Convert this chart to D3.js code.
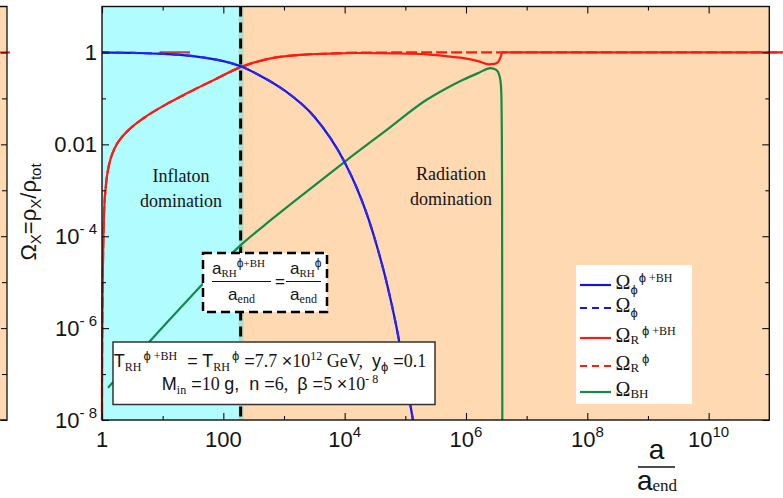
<!DOCTYPE html>
<html>
<head>
<meta charset="utf-8">
<script src="https://cdn.jsdelivr.net/npm/d3@7"></script>
<style>
  html, body { margin: 0; padding: 0; background: #fff; }
  svg { display: block; }
  text { white-space: pre; }
</style>
</head>
<body>
<svg id="chart" width="783" height="498"></svg>
<script>
// ---- data: log10(a/a_end) and log10(Omega_X) ----
const inflatonLogA     = [0, 0.5, 1.0, 1.5, 2.0, 2.285, 2.6, 3.0, 3.5, 4.0, 4.2, 4.4, 4.55, 4.7, 4.85, 5.0, 5.15, 5.25];
const inflatonLogOmega = [0, -0.01, -0.03, -0.08, -0.19, -0.30, -0.50, -0.82, -1.40, -2.39, -2.95, -3.65, -4.3, -5.05, -5.95, -7.05, -8.2, -9.1];

// inflaton-only history coincides with the inflaton + BH one
const inflatonOnlyLogA     = inflatonLogA.slice();
const inflatonOnlyLogOmega = inflatonLogOmega.slice();

const radiationLogA     = [0.00003, 0.0003, 0.0015, 0.005, 0.0099, 0.0165, 0.0329, 0.0659, 0.1153, 0.1811, 0.247, 0.329, 0.461, 0.708, 1.07, 1.40, 1.828, 2.285, 2.78, 3.26, 3.75, 4.2, 4.8, 5.35, 5.67, 5.94, 6.2, 6.38, 6.47, 6.53, 6.565, 6.585, 6.6, 8, 11.22];
const radiationLogOmega = [-8.5, -7.4, -6.7, -6.04, -5.17, -4.52, -3.54, -2.88, -2.45, -2.17, -1.99, -1.84, -1.66, -1.41, -1.12, -0.89, -0.61, -0.32, -0.13, -0.055, -0.025, -0.012, -0.02, -0.04, -0.08, -0.12, -0.19, -0.26, -0.25, -0.21, -0.12, -0.04, 0, 0, 0];

const radiationOnlyLogA     = [0.00003, 0.0003, 0.0015, 0.005, 0.0099, 0.0165, 0.0329, 0.0659, 0.1153, 0.1811, 0.247, 0.329, 0.461, 0.708, 1.07, 1.40, 1.828, 2.285, 2.78, 3.26, 3.75, 4.2, 5.0, 11.22];
const radiationOnlyLogOmega = [-8.5, -7.4, -6.7, -6.04, -5.17, -4.52, -3.54, -2.88, -2.45, -2.17, -1.99, -1.84, -1.66, -1.41, -1.12, -0.89, -0.61, -0.32, -0.13, -0.055, -0.025, -0.006, 0, 0];

// short faint piece of the radiation line sitting at Omega = 1
const radiationTraceLogA     = [0.95, 1.45];
const radiationTraceLogOmega = [0, 0];

const bhLogA     = [0.099, 0.8, 1.449, 2.272, 2.8, 3.4, 4.0, 4.7, 5.352, 5.65, 5.944, 6.2, 6.405, 6.5, 6.55, 6.575, 6.585, 6.59, 6.595, 6.6];
const bhLogOmega = [-7.30, -6.27, -5.34, -4.21, -3.63, -3.0, -2.38, -1.68, -1.03, -0.80, -0.60, -0.45, -0.34, -0.38, -0.5, -0.7, -1.0, -1.6, -3, -9];

// reheating scale factor (a_RH / a_end)
const aRH = 193;

// axis ticks
const xMajorTicks  = [1, 1e2, 1e4, 1e6, 1e8, 1e10];
const xMinorTicks  = [10, 1e3, 1e5, 1e7, 1e9];
const xTickLabels  = ['1', '100', '10^4', '10^6', '10^8', '10^10'];
const yMajorTicks  = [1e-8, 1e-6, 1e-4, 1e-2, 1];
const yMinorTicks  = [1e-7, 1e-5, 1e-3, 1e-1];
const yTickLabels  = ['10^- 8', '10^- 6', '10^- 4', '0.01', '1'];

// ---- setup ----
const SANS  = "'Liberation Sans', Arial, sans-serif";
const SERIF = "'Liberation Serif', 'Times New Roman', serif";
const COL = { blue: '#1414e6', red: '#ff1a10', green: '#138a45' };

const svg = d3.select('#chart');
const plot = { left: 102, right: 769.3, top: 6.5, bottom: 420 };

const x = d3.scaleLog().domain([1, 1e11]).range([plot.left, plot.right]);
const y = d3.scaleLog().domain([1e-8, 10]).range([plot.bottom, plot.top]);

const pts = (la, lo) => la.map((v, i) => [Math.pow(10, v), Math.pow(10, lo[i])]);
const line = d3.line().x(d => x(d[0])).y(d => y(d[1])).curve(d3.curveMonotoneX);

function rich(parent, px, py, runs, anchor) {
  const t = parent.append('text')
    .attr('x', px).attr('y', py)
    .attr('text-anchor', anchor || 'start')
    .attr('fill', '#141414');
  let cur = 0;
  runs.forEach(r => {
    const off = r.o || 0;
    const ts = t.append('tspan')
      .attr('font-family', r.f === 'serif' ? SERIF : SANS)
      .attr('font-size', r.s)
      .attr('dy', off - cur)
      .text(r.t);
    if (r.dx) ts.attr('dx', r.dx);
    cur = off;
  });
  return t;
}

svg.append('rect').attr('width', 783).attr('height', 498).attr('fill', '#fff');

// ---- neighbouring panel edge on the left ----
const side = svg.append('g');
side.append('rect').attr('x', 0).attr('y', plot.top).attr('width', 7).attr('height', plot.bottom - plot.top)
  .attr('fill', 'rgb(255,128,0)').attr('fill-opacity', 0.3);
side.append('line').attr('x1', 0).attr('x2', 10).attr('y1', y(1)).attr('y2', y(1))
  .attr('stroke', COL.red).attr('stroke-width', 2);
side.append('g').attr('transform', 'translate(7,0)')
  .call(d3.axisRight(y).tickValues(yMajorTicks).tickSize(-6).tickFormat(''))
  .call(g => g.select('.domain').remove());
side.append('g').attr('transform', 'translate(7,0)')
  .call(d3.axisRight(y).tickValues(yMinorTicks).tickSize(-5).tickFormat(''))
  .call(g => g.select('.domain').remove());
side.append('path').attr('d', `M0,${plot.top}H7V${plot.bottom}H0`)
  .attr('fill', 'none').attr('stroke', '#111').attr('stroke-width', 1.3);

// ---- era shading ----
svg.append('rect')
  .attr('x', x(aRH) - 2).attr('y', plot.top)
  .attr('width', plot.right - x(aRH) + 2).attr('height', plot.bottom - plot.top)
  .attr('fill', 'rgb(255,128,0)').attr('fill-opacity', 0.3);
svg.append('rect')
  .attr('x', x(1)).attr('y', plot.top)
  .attr('width', x(aRH) + 3 - x(1)).attr('height', plot.bottom - plot.top)
  .attr('fill', 'rgb(0,245,255)').attr('fill-opacity', 0.31);

// reheating marker
svg.append('line')
  .attr('x1', x(aRH)).attr('x2', x(aRH)).attr('y1', plot.top).attr('y2', plot.bottom)
  .attr('stroke', '#000').attr('stroke-width', 3).attr('stroke-dasharray', '10,6');

// ---- curves ----
svg.append('clipPath').attr('id', 'clip')
  .append('rect').attr('x', 95).attr('y', plot.top).attr('width', 783 - 95).attr('height', plot.bottom - plot.top);
const curves = svg.append('g').attr('clip-path', 'url(#clip)');

curves.append('path').datum(pts(radiationTraceLogA, radiationTraceLogOmega))
  .attr('d', line).attr('fill', 'none').attr('stroke', '#b8473a').attr('stroke-width', 2.2);
curves.append('path').datum(pts(bhLogA, bhLogOmega))
  .attr('d', line).attr('fill', 'none').attr('stroke', COL.green).attr('stroke-width', 2.2);
curves.append('path').datum(pts(radiationLogA, radiationLogOmega))
  .attr('d', line).attr('fill', 'none').attr('stroke', COL.red).attr('stroke-width', 2.2);
curves.append('path').datum(pts(radiationOnlyLogA, radiationOnlyLogOmega))
  .attr('d', line).attr('fill', 'none').attr('stroke', COL.red).attr('stroke-width', 2.2)
  .attr('stroke-dasharray', '11,4');
curves.append('path').datum(pts(inflatonLogA, inflatonLogOmega))
  .attr('d', line).attr('fill', 'none').attr('stroke', COL.blue).attr('stroke-width', 2.2);
curves.append('path').datum(pts(inflatonOnlyLogA, inflatonOnlyLogOmega))
  .attr('d', line).attr('fill', 'none').attr('stroke', '#2a2af0').attr('stroke-width', 2.2)
  .attr('stroke-dasharray', '8,6');

// ---- era labels ----
[['Inflaton', 182], ['domination', 207]].forEach(([t, by]) =>
  rich(svg, 181, by, [{ t, s: 18, f: 'serif' }], 'middle'));
[['Radiation', 180], ['domination', 205]].forEach(([t, by]) =>
  rich(svg, 451, by, [{ t, s: 18, f: 'serif' }], 'middle'));

// ---- a_RH equality box ----
const eq = svg.append('g');
eq.append('rect').attr('x', 203).attr('y', 253).attr('width', 124).attr('height', 59)
  .attr('fill', '#fff').attr('stroke', '#000').attr('stroke-width', 2.5).attr('stroke-dasharray', '9,5');
rich(eq, 212, 274, [
  { t: 'a', s: 17 }, { t: 'RH', s: 11, f: 'serif', o: 3 },
  { t: 'ϕ', s: 12, o: -7 }, { t: '+BH', s: 11, f: 'serif', o: -7 }
]);
eq.append('line').attr('x1', 212).attr('x2', 271).attr('y1', 281.5).attr('y2', 281.5).attr('stroke', '#111').attr('stroke-width', 1);
rich(eq, 241.5, 300, [{ t: 'a', s: 17 }, { t: 'end', s: 12, f: 'serif', o: 3 }], 'middle');
rich(eq, 280, 287, [{ t: '=', s: 17 }], 'middle');
rich(eq, 290, 274, [
  { t: 'a', s: 17 }, { t: 'RH', s: 11, f: 'serif', o: 3 }, { t: 'ϕ', s: 12, o: -7 }
]);
eq.append('line').attr('x1', 286).attr('x2', 321).attr('y1', 281.5).attr('y2', 281.5).attr('stroke', '#111').attr('stroke-width', 1);
rich(eq, 303.5, 300, [{ t: 'a', s: 17 }, { t: 'end', s: 12, f: 'serif', o: 3 }], 'middle');

// ---- parameter box ----
const pb = svg.append('g');
pb.append('rect').attr('x', 113).attr('y', 342).attr('width', 322).attr('height', 62.5)
  .attr('fill', '#fff').attr('stroke', '#333').attr('stroke-width', 1.5);
rich(pb, 270, 367, [
  { t: 'T', s: 18 }, { t: 'RH', s: 12, f: 'serif', o: 4 },
  { t: 'ϕ', s: 13, o: -7, dx: 2 }, { t: ' +BH', s: 12, f: 'serif', o: -7 },
  { t: '  = T', s: 18 }, { t: 'RH', s: 12, f: 'serif', o: 4 },
  { t: 'ϕ', s: 13, o: -7, dx: 2 },
  { t: ' =', s: 18 }, { t: '7.7 ', s: 18, f: 'serif' }, { t: '×', s: 18 },
  { t: '10', s: 18, f: 'serif' }, { t: '12', s: 12, f: 'serif', o: -7 },
  { t: ' GeV,  ', s: 18, f: 'serif' }, { t: 'y', s: 18 }, { t: 'ϕ', s: 13, o: 4 },
  { t: ' =', s: 18 }, { t: '0.1', s: 18, f: 'serif' }
], 'middle');
rich(pb, 270, 390, [
  { t: 'M', s: 18 }, { t: 'in', s: 12, f: 'serif', o: 4 },
  { t: ' =', s: 18 }, { t: '10 ', s: 18, f: 'serif' }, { t: 'g,  n =', s: 18 },
  { t: '6,  ', s: 18, f: 'serif' }, { t: 'β =', s: 18 }, { t: '5 ', s: 18, f: 'serif' },
  { t: '×', s: 18 }, { t: '10', s: 18, f: 'serif' }, { t: '- 8', s: 12, f: 'serif', o: -7 }
], 'middle');

// ---- legend ----
const lg = svg.append('g');
lg.append('rect').attr('x', 576).attr('y', 265).attr('width', 116).attr('height', 139).attr('fill', '#fff');
const legendRows = [
  { y: 285, color: COL.blue, dash: null, runs: [{ t: 'Ω', s: 20, f: 'serif' }, { t: 'ϕ', s: 13, o: 5 }, { t: 'ϕ', s: 13, o: -7, dx: 1 }, { t: ' +BH', s: 12, f: 'serif', o: -7 }] },
  { y: 308, color: COL.blue, dash: '7,5', runs: [{ t: 'Ω', s: 20, f: 'serif' }, { t: 'ϕ', s: 13, o: 5 }] },
  { y: 338, color: COL.red, dash: null, runs: [{ t: 'Ω', s: 20, f: 'serif' }, { t: 'R', s: 13, f: 'serif', o: 2 }, { t: 'ϕ', s: 13, o: -7, dx: 3 }, { t: ' +BH', s: 12, f: 'serif', o: -7 }] },
  { y: 366, color: COL.red, dash: '7,5', runs: [{ t: 'Ω', s: 20, f: 'serif' }, { t: 'R', s: 13, f: 'serif', o: 2 }, { t: 'ϕ', s: 13, o: -7, dx: 3 }] },
  { y: 392, color: COL.green, dash: null, runs: [{ t: 'Ω', s: 20, f: 'serif' }, { t: 'BH', s: 13, f: 'serif', o: 2 }] }
];
legendRows.forEach(r => {
  const l = lg.append('line').attr('x1', 580).attr('x2', 611).attr('y1', r.y).attr('y2', r.y)
    .attr('stroke', r.color).attr('stroke-width', 2.2);
  if (r.dash) l.attr('stroke-dasharray', r.dash);
  rich(lg, 615.5, r.y + 4, r.runs);
});

// ---- frame and ticks ----
function ticks(axis, tx, ty, vals, len) {
  svg.append('g').attr('transform', `translate(${tx},${ty})`)
    .call(axis.tickValues(vals).tickSize(len).tickFormat(''))
    .call(g => g.select('.domain').remove())
    .call(g => g.selectAll('line').attr('stroke', '#111').attr('stroke-width', 1.1));
}
ticks(d3.axisBottom(x), 0, plot.bottom, xMajorTicks, -7);
ticks(d3.axisBottom(x), 0, plot.bottom, xMinorTicks, -4);
ticks(d3.axisTop(x), 0, plot.top, xMajorTicks, -7);
ticks(d3.axisTop(x), 0, plot.top, xMinorTicks, -4);
ticks(d3.axisLeft(y), plot.left, 0, yMajorTicks, -7);
ticks(d3.axisLeft(y), plot.left, 0, yMinorTicks, -4);
ticks(d3.axisRight(y), plot.right, 0, yMajorTicks, -7);
ticks(d3.axisRight(y), plot.right, 0, yMinorTicks, -4);

svg.append('rect')
  .attr('x', plot.left).attr('y', plot.top)
  .attr('width', plot.right - plot.left).attr('height', plot.bottom - plot.top)
  .attr('fill', 'none').attr('stroke', '#111').attr('stroke-width', 1.4);

// tick labels
xMajorTicks.forEach((v, i) => {
  const [base, sup] = xTickLabels[i].split('^');
  const runs = [{ t: base, s: 22 }];
  if (sup) runs.push({ t: sup, s: 15, o: -10 });
  rich(svg, x(v), 447, runs, 'middle');
});
yMajorTicks.forEach((v, i) => {
  const [base, sup] = yTickLabels[i].split('^');
  const runs = [{ t: base, s: 22 }];
  if (sup) runs.push({ t: sup, s: 15, o: -10 });
  rich(svg, 97, y(v) + 8, runs, 'end');
});

// axis titles
rich(svg, 656.5, 459, [{ t: 'a', s: 28 }], 'middle');
svg.append('line').attr('x1', 638).attr('x2', 675).attr('y1', 467).attr('y2', 467)
  .attr('stroke', '#111').attr('stroke-width', 1.3);
rich(svg, 637, 490, [{ t: 'a', s: 28 }, { t: 'end', s: 17, f: 'serif', o: 1 }]);

const yl = svg.append('g').attr('transform', 'translate(36,212) rotate(-90)');
rich(yl, 0, 0, [
  { t: 'Ω', s: 22 }, { t: 'X', s: 15, o: 5 }, { t: '=', s: 22 }, { t: 'ρ', s: 22 },
  { t: 'X', s: 15, o: 5 }, { t: '/', s: 22 }, { t: 'ρ', s: 22 }, { t: 'tot', s: 15, o: 5 }
], 'middle');
</script>
</body>
</html>
